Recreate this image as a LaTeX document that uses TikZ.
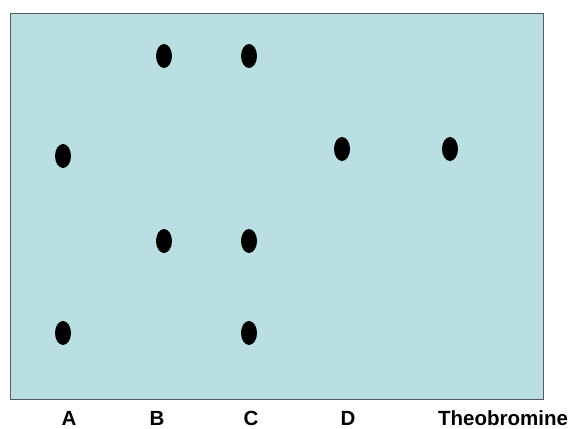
\documentclass[tikz,border=0pt]{standalone}
\usepackage{fontspec}
\setmainfont{Liberation Sans}
\usetikzlibrary{shapes.geometric}
\definecolor{plate}{HTML}{B9DFE3}
\definecolor{edge}{HTML}{5A5A5A}
\tikzset{
  spot/.style={ellipse,fill=black,minimum width=16pt,minimum height=24pt,inner sep=0pt},
  lane/.style={font=\fontsize{20.5}{24}\selectfont\bfseries,anchor=base,inner sep=0pt}
}
\begin{document}
\begin{tikzpicture}[x=1pt,y=-1pt]
\useasboundingbox (0,0) rectangle (572,428);
\node[draw=edge,line width=1.2pt,fill=plate,minimum width=533pt,minimum height=386pt,inner sep=0pt,anchor=north west] (plate) at (10,13) {};
\node[spot] (a1) at (63,156) {};
\node[spot] (a2) at (63,333) {};
\node[spot] (b1) at (164,56) {};
\node[spot] (b2) at (164,241) {};
\node[spot] (c1) at (249,56) {};
\node[spot] (c2) at (249,241) {};
\node[spot] (c3) at (249,333) {};
\node[spot] (d1) at (342,149) {};
\node[spot] (t1) at (450,149) {};
\node[lane] (la) at (69,425) {A};
\node[lane] (lb) at (157,425) {B};
\node[lane] (lc) at (251,425) {C};
\node[lane] (ld) at (348,425) {D};
\node[lane] (lt) at (503,425) {Theobromine};
\end{tikzpicture}
\end{document}
